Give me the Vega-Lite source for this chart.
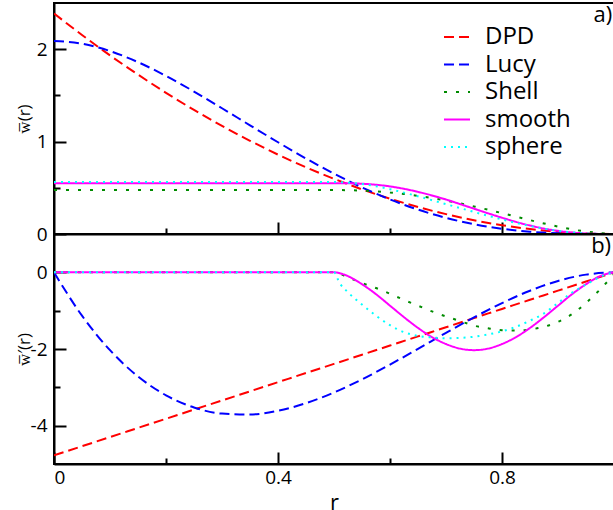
{
  "$schema": "https://vega.github.io/schema/vega-lite/v6.json",
  "padding": {"left": 14, "top": 2, "right": 0, "bottom": 0},
  "config": {
    "font": "Open Sans",
    "view": {"stroke": "black", "strokeWidth": 2},
    "axis": {"minExtent": 0, "domainColor": "black", "domainWidth": 2, "tickColor": "black", "tickWidth": 2, "labelFont": "Open Sans", "labelFontSize": 19, "labelColor": "black", "titleFont": "Open Sans", "titleFontWeight": "normal", "titleColor": "black", "grid": false}
  },
  "datasets": {
    "curves": [
      {"s":"DPD","r":0,"w":2.387,"d":-4.775},
      {"s":"DPD","r":0.05,"w":2.154,"d":-4.536},
      {"s":"DPD","r":0.1,"w":1.933,"d":-4.298},
      {"s":"DPD","r":0.15,"w":1.725,"d":-4.059},
      {"s":"DPD","r":0.2,"w":1.528,"d":-3.820},
      {"s":"DPD","r":0.25,"w":1.343,"d":-3.581},
      {"s":"DPD","r":0.3,"w":1.170,"d":-3.343},
      {"s":"DPD","r":0.35,"w":1.009,"d":-3.104},
      {"s":"DPD","r":0.4,"w":0.859,"d":-2.865},
      {"s":"DPD","r":0.45,"w":0.722,"d":-2.626},
      {"s":"DPD","r":0.5,"w":0.597,"d":-2.388},
      {"s":"DPD","r":0.55,"w":0.483,"d":-2.149},
      {"s":"DPD","r":0.6,"w":0.382,"d":-1.910},
      {"s":"DPD","r":0.65,"w":0.292,"d":-1.671},
      {"s":"DPD","r":0.7,"w":0.215,"d":-1.433},
      {"s":"DPD","r":0.75,"w":0.149,"d":-1.194},
      {"s":"DPD","r":0.8,"w":0.095,"d":-0.955},
      {"s":"DPD","r":0.85,"w":0.054,"d":-0.716},
      {"s":"DPD","r":0.9,"w":0.024,"d":-0.478},
      {"s":"DPD","r":0.95,"w":0.006,"d":-0.239},
      {"s":"DPD","r":1.0,"w":0,"d":0},
      {"s":"Lucy","r":0,"w":2.089,"d":0},
      {"s":"Lucy","r":0.05,"w":2.060,"d":-1.131},
      {"s":"Lucy","r":0.1,"w":1.980,"d":-2.031},
      {"s":"Lucy","r":0.15,"w":1.860,"d":-2.717},
      {"s":"Lucy","r":0.2,"w":1.711,"d":-3.209},
      {"s":"Lucy","r":0.25,"w":1.542,"d":-3.525},
      {"s":"Lucy","r":0.3,"w":1.361,"d":-3.685},
      {"s":"Lucy","r":0.35,"w":1.176,"d":-3.707},
      {"s":"Lucy","r":0.4,"w":0.993,"d":-3.610},
      {"s":"Lucy","r":0.45,"w":0.817,"d":-3.413},
      {"s":"Lucy","r":0.5,"w":0.653,"d":-3.134},
      {"s":"Lucy","r":0.55,"w":0.504,"d":-2.792},
      {"s":"Lucy","r":0.6,"w":0.374,"d":-2.407},
      {"s":"Lucy","r":0.65,"w":0.264,"d":-1.996},
      {"s":"Lucy","r":0.7,"w":0.175,"d":-1.579},
      {"s":"Lucy","r":0.75,"w":0.106,"d":-1.175},
      {"s":"Lucy","r":0.8,"w":0.057,"d":-0.802},
      {"s":"Lucy","r":0.85,"w":0.025,"d":-0.479},
      {"s":"Lucy","r":0.9,"w":0.008,"d":-0.226},
      {"s":"Lucy","r":0.95,"w":0.001,"d":-0.060},
      {"s":"Lucy","r":1.0,"w":0,"d":0},
      {"s":"Shell","r":0,"w":0.476,"d":0},
      {"s":"Shell","r":0.25,"w":0.476,"d":0},
      {"s":"Shell","r":0.5,"w":0.476,"d":0},
      {"s":"Shell","r":0.525,"w":0.474,"d":-0.13},
      {"s":"Shell","r":0.55,"w":0.469,"d":-0.28},
      {"s":"Shell","r":0.575,"w":0.461,"d":-0.41},
      {"s":"Shell","r":0.6,"w":0.449,"d":-0.56},
      {"s":"Shell","r":0.625,"w":0.433,"d":-0.72},
      {"s":"Shell","r":0.65,"w":0.413,"d":-0.87},
      {"s":"Shell","r":0.675,"w":0.389,"d":-1.02},
      {"s":"Shell","r":0.7,"w":0.362,"d":-1.15},
      {"s":"Shell","r":0.725,"w":0.332,"d":-1.27},
      {"s":"Shell","r":0.75,"w":0.298,"d":-1.39},
      {"s":"Shell","r":0.775,"w":0.263,"d":-1.46},
      {"s":"Shell","r":0.8,"w":0.226,"d":-1.51},
      {"s":"Shell","r":0.825,"w":0.188,"d":-1.52},
      {"s":"Shell","r":0.85,"w":0.150,"d":-1.49},
      {"s":"Shell","r":0.875,"w":0.114,"d":-1.42},
      {"s":"Shell","r":0.9,"w":0.080,"d":-1.29},
      {"s":"Shell","r":0.925,"w":0.050,"d":-1.09},
      {"s":"Shell","r":0.95,"w":0.027,"d":-0.80},
      {"s":"Shell","r":0.975,"w":0.011,"d":-0.45},
      {"s":"Shell","r":1.0,"w":0,"d":-0.05},
      {"s":"smooth","r":0,"w":0.55,"d":0},
      {"s":"smooth","r":0.25,"w":0.55,"d":0},
      {"s":"smooth","r":0.5,"w":0.55,"d":0},
      {"s":"smooth","r":0.525,"w":0.549,"d":-0.10},
      {"s":"smooth","r":0.55,"w":0.544,"d":-0.31},
      {"s":"smooth","r":0.575,"w":0.533,"d":-0.57},
      {"s":"smooth","r":0.6,"w":0.515,"d":-0.87},
      {"s":"smooth","r":0.625,"w":0.489,"d":-1.17},
      {"s":"smooth","r":0.65,"w":0.456,"d":-1.45},
      {"s":"smooth","r":0.675,"w":0.417,"d":-1.69},
      {"s":"smooth","r":0.7,"w":0.373,"d":-1.87},
      {"s":"smooth","r":0.725,"w":0.324,"d":-1.99},
      {"s":"smooth","r":0.75,"w":0.274,"d":-2.03},
      {"s":"smooth","r":0.775,"w":0.224,"d":-1.99},
      {"s":"smooth","r":0.8,"w":0.176,"d":-1.87},
      {"s":"smooth","r":0.825,"w":0.131,"d":-1.69},
      {"s":"smooth","r":0.85,"w":0.092,"d":-1.45},
      {"s":"smooth","r":0.875,"w":0.059,"d":-1.17},
      {"s":"smooth","r":0.9,"w":0.034,"d":-0.87},
      {"s":"smooth","r":0.925,"w":0.016,"d":-0.57},
      {"s":"smooth","r":0.95,"w":0.005,"d":-0.31},
      {"s":"smooth","r":0.975,"w":0.001,"d":-0.10},
      {"s":"smooth","r":1.0,"w":0,"d":0},
      {"s":"sphere","r":0,"w":0.563,"d":0},
      {"s":"sphere","r":0.25,"w":0.563,"d":0},
      {"s":"sphere","r":0.5,"w":0.563,"d":0},
      {"s":"sphere","r":0.51,"w":0.561,"d":-0.28},
      {"s":"sphere","r":0.525,"w":0.556,"d":-0.52},
      {"s":"sphere","r":0.55,"w":0.540,"d":-0.84},
      {"s":"sphere","r":0.575,"w":0.517,"d":-1.13},
      {"s":"sphere","r":0.6,"w":0.485,"d":-1.38},
      {"s":"sphere","r":0.625,"w":0.448,"d":-1.56},
      {"s":"sphere","r":0.65,"w":0.408,"d":-1.66},
      {"s":"sphere","r":0.675,"w":0.366,"d":-1.70},
      {"s":"sphere","r":0.7,"w":0.323,"d":-1.72},
      {"s":"sphere","r":0.725,"w":0.281,"d":-1.71},
      {"s":"sphere","r":0.75,"w":0.238,"d":-1.68},
      {"s":"sphere","r":0.775,"w":0.197,"d":-1.62},
      {"s":"sphere","r":0.8,"w":0.157,"d":-1.54},
      {"s":"sphere","r":0.825,"w":0.120,"d":-1.42},
      {"s":"sphere","r":0.85,"w":0.087,"d":-1.26},
      {"s":"sphere","r":0.875,"w":0.058,"d":-1.07},
      {"s":"sphere","r":0.9,"w":0.034,"d":-0.80},
      {"s":"sphere","r":0.925,"w":0.018,"d":-0.53},
      {"s":"sphere","r":0.95,"w":0.007,"d":-0.32},
      {"s":"sphere","r":0.975,"w":0.002,"d":-0.12},
      {"s":"sphere","r":1.0,"w":0,"d":0}
    ]
  },
  "spacing": 0,
  "bounds": "flush",
  "resolve": {"scale": {"color": "independent", "strokeDash": "independent", "strokeWidth": "independent"}, "legend": {"color": "independent", "strokeDash": "independent", "strokeWidth": "independent"}},
  "vconcat": [
    {
      "width": 560,
      "height": 231,
      "layer": [
        {
          "data": {"name": "curves"},
          "mark": {"type": "line", "interpolate": "monotone", "clip": true},
          "encoding": {
            "x": {"field": "r", "type": "quantitative", "scale": {"domain": [0, 1], "nice": false, "zero": false},
              "axis": {"values": [0.2, 0.4, 0.6, 0.8], "labels": false, "title": null, "tickSize": -12,
                "tickDash": {"condition": {"test": "datum.value == 0.2 || datum.value == 0.6", "value": [6, 30]}, "value": []}}},
            "y": {"field": "w", "type": "quantitative", "scale": {"domain": [0, 2.5], "nice": false},
              "axis": {"values": [0, 0.5, 1, 1.5, 2], "tickSize": -12, "labelPadding": 19,
                "labelExpr": "datum.value % 1 == 0 ? '' + datum.value : ''",
                "tickDash": {"condition": {"test": "datum.value % 1 != 0", "value": [6, 30]}, "value": []},
                "title": "w\u0305(r)", "titleFontSize": 17, "titleX": -30, "titleBaseline": "middle"}},
            "color": {"field": "s", "type": "nominal", "title": null,
              "scale": {"domain": ["DPD", "Lucy", "Shell", "smooth", "sphere"], "range": ["#ff0000", "#0000ff", "#008b00", "#ff00ff", "#00ffff"]},
              "legend": {"orient": "none", "legendX": 389, "legendY": 20, "symbolType": "stroke", "symbolSize": 676, "labelFontSize": 24, "labelOffset": 14, "rowPadding": 1.5, "padding": 0, "labelFont": "Open Sans", "labelColor": "black"}},
            "strokeDash": {"field": "s", "type": "nominal", "title": null,
              "scale": {"domain": ["DPD", "Lucy", "Shell", "smooth", "sphere"], "range": [[10, 5], [10, 5], [3, 9], [1, 0], [2, 5]]}},
            "strokeWidth": {"field": "s", "type": "nominal", "title": null,
              "scale": {"domain": ["DPD", "Lucy", "Shell", "smooth", "sphere"], "range": [2, 2, 3.5, 1, 2.5]}}
          }
        },
        {
          "data": {"values": [{"t": "a)", "r": 0.98, "w": 2.37}]},
          "mark": {"type": "text", "fontSize": 22, "align": "center", "baseline": "middle", "color": "black"},
          "encoding": {
            "x": {"field": "r", "type": "quantitative"},
            "y": {"field": "w", "type": "quantitative"},
            "text": {"field": "t"}
          }
        }
      ]
    },
    {
      "width": 560,
      "height": 230,
      "layer": [
        {
          "data": {"name": "curves"},
          "mark": {"type": "line", "interpolate": "monotone", "clip": true},
          "encoding": {
            "x": {"field": "r", "type": "quantitative", "scale": {"domain": [0, 1], "nice": false, "zero": false},
              "axis": {"values": [0, 0.2, 0.4, 0.6, 0.8], "tickSize": -12, "labelPadding": 16,
                "labelExpr": "datum.value == 0.2 || datum.value == 0.6 ? '' : '' + datum.value",
                "tickDash": {"condition": {"test": "datum.value == 0.2 || datum.value == 0.6", "value": [6, 30]}, "value": []},
                "title": "r", "titleFontSize": 22, "titlePadding": 5}},
            "y": {"field": "d", "type": "quantitative", "scale": {"domain": [-5, 1], "nice": false},
              "axis": {"values": [-4, -3, -2, -1, 0], "tickSize": -12, "labelPadding": 19,
                "labelExpr": "datum.value % 2 == 0 ? '' + datum.value : ''",
                "tickDash": {"condition": {"test": "datum.value % 2 != 0", "value": [6, 30]}, "value": []},
                "title": "w\u0305\u2032(r)", "titleFontSize": 17, "titleX": -30, "titleBaseline": "middle"}},
            "color": {"field": "s", "type": "nominal", "legend": null,
              "scale": {"domain": ["DPD", "Lucy", "Shell", "smooth", "sphere"], "range": ["#ff0000", "#0000ff", "#008b00", "#ff00ff", "#00ffff"]}},
            "strokeDash": {"field": "s", "type": "nominal", "legend": null,
              "scale": {"domain": ["DPD", "Lucy", "Shell", "smooth", "sphere"], "range": [[10, 5], [10, 5], [3, 9], [1, 0], [2, 5]]}},
            "strokeWidth": {"field": "s", "type": "nominal", "legend": null,
              "scale": {"domain": ["DPD", "Lucy", "Shell", "smooth", "sphere"], "range": [2, 2, 3.5, 1, 2.5]}}
          }
        },
        {
          "data": {"values": [{"t": "b)", "r": 0.977, "d": 0.68}]},
          "mark": {"type": "text", "fontSize": 22, "align": "center", "baseline": "middle", "color": "black"},
          "encoding": {
            "x": {"field": "r", "type": "quantitative"},
            "y": {"field": "d", "type": "quantitative"},
            "text": {"field": "t"}
          }
        }
      ]
    }
  ]
}
